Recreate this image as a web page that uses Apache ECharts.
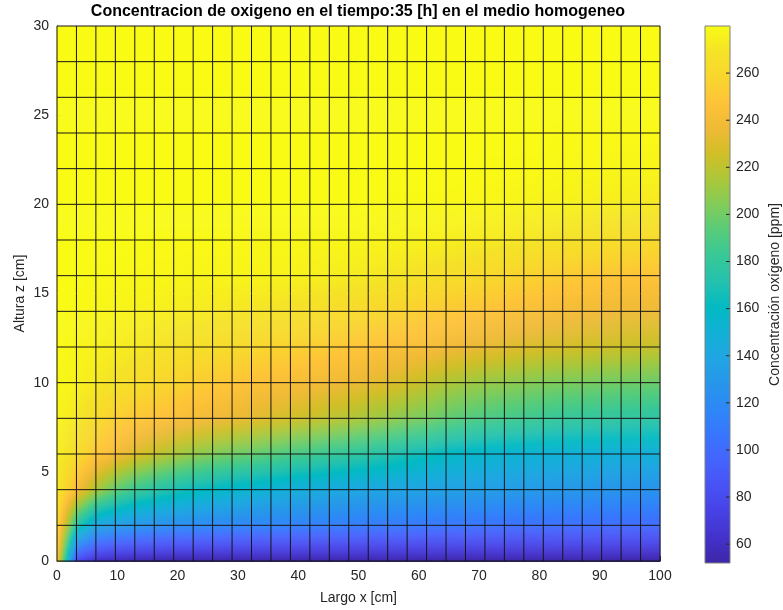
<!DOCTYPE html>
<html>
<head>
<meta charset="utf-8">
<script src="https://cdn.jsdelivr.net/npm/echarts@6/dist/echarts.min.js"></script>
<style>
  html, body { margin: 0; padding: 0; background: #ffffff; }
  #chart { width: 783px; height: 610px; }
</style>
</head>
<body>
<div id="chart"></div>
<script>
// Mesh nodes of the simulation domain (cm)
const xNodes = [0, 3.226, 6.452, 9.677, 12.903, 16.129, 19.355, 22.581, 25.806, 29.032,
  32.258, 35.484, 38.710, 41.935, 45.161, 48.387, 51.613, 54.839, 58.065, 61.290,
  64.516, 67.742, 70.968, 74.194, 77.419, 80.645, 83.871, 87.097, 90.323, 93.548,
  96.774, 100];
const zNodes = [0, 2, 4, 6, 8, 10, 12, 14, 16, 18, 20, 22, 24, 26, 28, 30];

// Oxygen concentration [ppm] at t = 35 h, one row per height z (values along x)
const o2_z00 = [252, 80, 62, 57, 55, 54, 53, 53, 53, 53, 53, 53, 53, 53, 53, 53, 53, 53, 53, 53, 53, 53, 53, 53, 53, 53, 53, 53, 53, 52, 52, 52];
const o2_z02 = [263, 175, 140, 133, 128, 125, 122, 120, 118, 117, 116, 115, 114, 113, 112, 111, 110, 110, 109, 108, 107, 106, 105, 104, 103, 103, 102, 102, 101, 101, 100, 100];
const o2_z04 = [271, 243, 215, 196, 184, 176, 169, 164, 160, 156, 153, 150, 147, 145, 143, 141, 140, 139, 138, 137, 136, 135, 134, 133, 132, 131, 130, 129, 128, 127, 126, 126];
const o2_z06 = [275, 264, 250, 240, 230, 222, 215, 209, 204, 200, 197, 193, 189, 186, 182, 179, 176, 172, 168, 164, 160, 157, 155, 153, 152, 151, 150, 149, 149, 148, 148, 148];
const o2_z08 = [277, 271, 262, 255, 250, 247, 244, 241, 238, 235, 232, 229, 226, 223, 220, 217, 213, 209, 205, 201, 196, 192, 189, 187, 185, 183, 181, 180, 179, 178, 177, 176];
const o2_z10 = [278, 276, 272, 268, 264, 260, 257, 254, 251, 249, 246, 244, 242, 240, 238, 236, 233, 230, 226, 221, 216, 213, 210, 208, 206, 204, 203, 202, 201, 200, 199, 198];
const o2_z12 = [279, 278, 276, 274, 272, 270, 268, 266, 264, 262, 260, 258, 256, 254, 252, 250, 248, 246, 244, 242, 239, 236, 234, 232, 230, 228, 227, 226, 225, 224, 223, 222];
const o2_z14 = [280, 279, 278, 277, 276, 275, 274, 273, 272, 271, 270, 269, 267, 266, 264, 262, 260, 258, 256, 253, 251, 249, 247, 245, 243, 242, 240, 239, 238, 237, 236, 236];
const o2_z16 = [280, 280, 279, 279, 278, 278, 278, 277, 277, 277, 277, 276, 276, 275, 274, 273, 272, 271, 269, 267, 265, 263, 261, 259, 257, 255, 253, 251, 250, 249, 248, 247];
const o2_z18 = [280, 280, 280, 280, 280, 279, 279, 279, 279, 279, 278, 278, 278, 278, 278, 278, 277, 277, 276, 276, 275, 274, 273, 272, 271, 270, 268, 267, 266, 264, 263, 262];
const o2_z20 = [280, 280, 280, 280, 280, 280, 280, 280, 280, 280, 280, 280, 280, 280, 280, 280, 280, 279, 279, 279, 279, 278, 278, 277, 277, 276, 276, 275, 274, 274, 273, 272];
const o2_z22 = [280, 280, 280, 280, 280, 280, 280, 280, 280, 280, 280, 280, 280, 280, 280, 280, 280, 280, 280, 280, 280, 280, 279, 279, 279, 279, 278, 278, 278, 277, 277, 277];
const o2_z24 = [280, 280, 280, 280, 280, 280, 280, 280, 280, 280, 280, 280, 280, 280, 280, 280, 280, 280, 280, 280, 280, 280, 280, 280, 280, 280, 279, 279, 279, 279, 279, 279];
const o2_z26 = [280, 280, 280, 280, 280, 280, 280, 280, 280, 280, 280, 280, 280, 280, 280, 280, 280, 280, 280, 280, 280, 280, 280, 280, 280, 280, 280, 280, 280, 280, 280, 280];
const o2_z28 = [280, 280, 280, 280, 280, 280, 280, 280, 280, 280, 280, 280, 280, 280, 280, 280, 280, 280, 280, 280, 280, 280, 280, 280, 280, 280, 280, 280, 280, 280, 280, 280];
const o2_z30 = [280, 280, 280, 280, 280, 280, 280, 280, 280, 280, 280, 280, 280, 280, 280, 280, 280, 280, 280, 280, 280, 280, 280, 280, 280, 280, 280, 280, 280, 280, 280, 280];

const oxygen = [o2_z00, o2_z02, o2_z04, o2_z06, o2_z08, o2_z10, o2_z12, o2_z14,
  o2_z16, o2_z18, o2_z20, o2_z22, o2_z24, o2_z26, o2_z28, o2_z30];

// Colour limits and colorbar ticks
const cMin = 52, cMax = 280;
const colorbarTicks = [60, 80, 100, 120, 140, 160, 180, 200, 220, 240, 260];

// Parula colormap (evenly spaced stops)
const parula = ['#3E26A8', '#4332CB', '#4741E5', '#4852F4', '#4563FD', '#3875FE', '#2E87F7',
  '#2796EB', '#20A5E3', '#12B1D6', '#02BAC3', '#24C1AE', '#37C897', '#57CC7A', '#81CC59',
  '#ABC739', '#D1BF27', '#EFBA36', '#FEC338', '#F9D62D', '#F5E327', '#F9FB15'];

// Lookup table built from the colormap
const LUT_SIZE = 512;
const lut = [];
for (let k = 0; k < LUT_SIZE; k++) {
  lut.push(echarts.color.lerp(k / (LUT_SIZE - 1), parula));
}
function colorOf(v) {
  let t = (v - cMin) / (cMax - cMin);
  t = Math.min(1, Math.max(0, t));
  return lut[Math.round(t * (LUT_SIZE - 1))];
}

// One item per mesh cell: corners plus the four corner values
const cells = [];
for (let j = 0; j < zNodes.length - 1; j++) {
  for (let i = 0; i < xNodes.length - 1; i++) {
    cells.push([xNodes[i], zNodes[j], xNodes[i + 1], zNodes[j + 1],
      oxygen[j][i], oxygen[j][i + 1], oxygen[j + 1][i], oxygen[j + 1][i + 1]]);
  }
}

// Mesh edges (vertical and horizontal lines)
const meshLines = [];
xNodes.forEach(x => meshLines.push([x, zNodes[0], x, zNodes[zNodes.length - 1]]));
zNodes.forEach(z => meshLines.push([xNodes[0], z, xNodes[xNodes.length - 1], z]));

// Interpolated shading inside a cell: thin horizontal strips, each with a
// horizontal gradient of the interpolated values.
function renderCell(params, api) {
  const xa = api.value(0), za = api.value(1), xb = api.value(2), zb = api.value(3);
  const vBL = api.value(4), vBR = api.value(5), vTL = api.value(6), vTR = api.value(7);
  const pBL = api.coord([xa, za]);
  const pTR = api.coord([xb, zb]);
  const x0 = pBL[0], x1 = pTR[0], yTop = pTR[1], yBot = pBL[1];
  const h = yBot - yTop, w = x1 - x0;
  const n = Math.max(1, Math.ceil(h));
  const children = [];
  for (let s = 0; s < n; s++) {
    const f = 1 - (s + 0.5) / n;
    const vl = vBL + (vTL - vBL) * f;
    const vr = vBR + (vTR - vBR) * f;
    const stops = [];
    for (let k = 0; k <= 8; k++) {
      const u = k / 8;
      stops.push({ offset: u, color: colorOf(vl + (vr - vl) * u) });
    }
    children.push({
      type: 'rect',
      silent: true,
      shape: { x: x0 - 0.3, y: yTop + s * h / n, width: w + 0.6, height: h / n + 0.6 },
      style: { fill: new echarts.graphic.LinearGradient(0, 0, 1, 0, stops) }
    });
  }
  return { type: 'group', children: children };
}

function renderMesh(params, api) {
  const a = api.coord([api.value(0), api.value(1)]);
  const b = api.coord([api.value(2), api.value(3)]);
  return {
    type: 'line',
    silent: true,
    shape: { x1: a[0], y1: a[1], x2: b[0], y2: b[1] },
    style: { stroke: '#161616', lineWidth: 1 }
  };
}

// Colorbar: one vertical gradient over the colour limits, with short
// tick marks on the inner side of its right edge
function renderColorbar(params, api) {
  const lo = api.coord([0, api.value(0)]);
  const hi = api.coord([1, api.value(1)]);
  const stops = parula.map((c, k) => ({ offset: k / (parula.length - 1), color: c }));
  const children = [{
    type: 'rect',
    silent: true,
    shape: { x: lo[0], y: hi[1], width: hi[0] - lo[0], height: lo[1] - hi[1] },
    style: { fill: new echarts.graphic.LinearGradient(0, 1, 0, 0, stops) }
  }];
  colorbarTicks.forEach(v => {
    const p = api.coord([1, v]);
    children.push({
      type: 'line',
      silent: true,
      shape: { x1: p[0] - 4, y1: p[1], x2: p[0], y2: p[1] },
      style: { stroke: '#262626', lineWidth: 1 }
    });
  });
  return { type: 'group', children: children };
}

const textColor = '#262626';
const fontFamily = 'Helvetica, "Liberation Sans", Arial, sans-serif';

const chart = echarts.init(document.getElementById('chart'), null, { renderer: 'canvas' });
chart.setOption({
  animation: false,
  backgroundColor: '#ffffff',
  textStyle: { fontFamily: fontFamily },
  title: {
    text: 'Concentracion de oxigeno en el tiempo:35 [h] en el medio homogeneo',
    left: 358,
    top: 4,
    textAlign: 'center',
    padding: 0,
    textStyle: { fontSize: 16, fontWeight: 'bold', color: '#000000', fontFamily: fontFamily }
  },
  grid: [
    { left: 57, top: 26, width: 603, height: 537 },
    { left: 705, top: 26, width: 25, height: 537, show: true, borderColor: '#808080',
      borderWidth: 1, backgroundColor: 'transparent', z: 6 }
  ],
  xAxis: [
    {
      gridIndex: 0, type: 'value', min: 0, max: 100, interval: 10,
      axisLine: { show: true, lineStyle: { color: textColor, width: 1 } },
      axisTick: { show: true, inside: true, length: 5, lineStyle: { color: textColor } },
      axisLabel: { fontSize: 14, color: textColor, margin: 8 },
      splitLine: { show: false },
      name: 'Largo x [cm]', nameLocation: 'middle', nameGap: 30, nameMoveOverlap: false,
      nameTextStyle: { fontSize: 14, color: textColor }
    },
    { gridIndex: 1, type: 'value', min: 0, max: 1, show: false }
  ],
  yAxis: [
    {
      gridIndex: 0, type: 'value', min: 0, max: 30, interval: 5,
      axisLine: { show: true, lineStyle: { color: textColor, width: 1 } },
      axisTick: { show: true, inside: true, length: 5, lineStyle: { color: textColor } },
      axisLabel: { fontSize: 14, color: textColor, margin: 8 },
      splitLine: { show: false },
      name: 'Altura z [cm]', nameLocation: 'middle', nameGap: 30, nameMoveOverlap: false,
      nameTextStyle: { fontSize: 14, color: textColor }
    },
    {
      gridIndex: 1, type: 'value', min: cMin, max: cMax, position: 'right', z: 8,
      axisLine: { show: false },
      axisTick: { show: false },
      axisLabel: { fontSize: 14, color: textColor, margin: 6, customValues: colorbarTicks },
      splitLine: { show: false },
      name: 'Concentración oxígeno [ppm]', nameLocation: 'middle', nameGap: 38,
      nameMoveOverlap: false,
      nameTextStyle: { fontSize: 14, color: textColor }
    }
  ],
  series: [
    {
      type: 'custom',
      xAxisIndex: 0, yAxisIndex: 0,
      renderItem: renderCell,
      data: cells,
      encode: { x: [0, 2], y: [1, 3] },
      silent: true,
      z: 2
    },
    {
      type: 'custom',
      xAxisIndex: 0, yAxisIndex: 0,
      renderItem: renderMesh,
      data: meshLines,
      encode: { x: [0, 2], y: [1, 3] },
      clip: false,
      silent: true,
      z: 3
    },
    {
      type: 'custom',
      xAxisIndex: 1, yAxisIndex: 1,
      renderItem: renderColorbar,
      data: [[cMin, cMax]],
      encode: { y: [0, 1] },
      clip: false,
      silent: true,
      z: 2
    }
  ]
});
</script>
</body>
</html>
